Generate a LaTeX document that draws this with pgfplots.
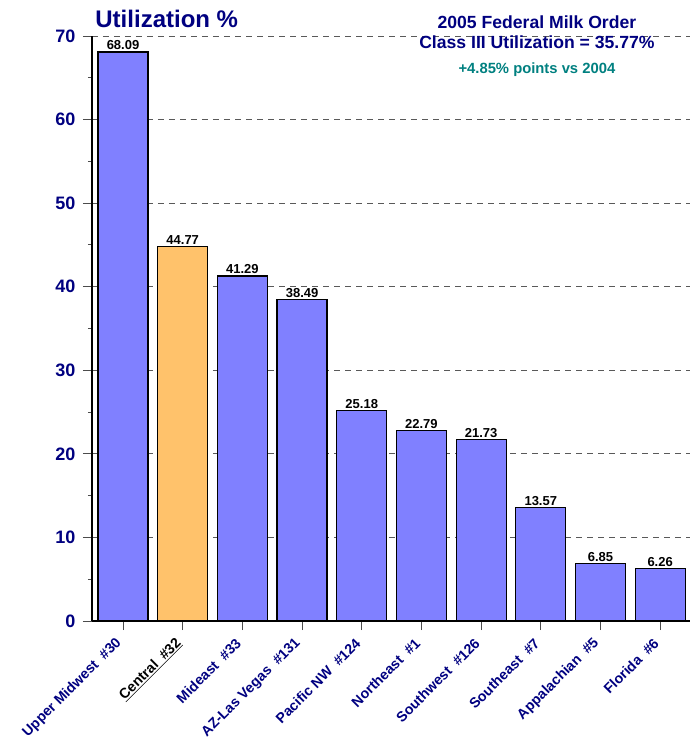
\documentclass[border=0pt]{standalone}
\usepackage{pgfplots}
\pgfplotsset{compat=1.18}
\usepackage{fontspec}
\setmainfont{Liberation Sans}
\definecolor{navy}{RGB}{0,0,128}
\definecolor{barblue}{RGB}{128,128,255}
\definecolor{barorange}{RGB}{255,194,107}
\definecolor{tealtxt}{RGB}{0,128,128}
\begin{document}
\begin{tikzpicture}
\path[use as bounding box] (-92pt,-119pt) rectangle (606pt,621pt);
\begin{axis}[
  scale only axis, width=598pt, height=585pt,
  xmin=-0.52, xmax=9.5, ymin=0, ymax=70,
  axis x line*=bottom, axis y line*=left,
  axis line style={line width=1.3pt, black, -},
  ybar, bar width=50pt, bar shift=0pt,
  xtick={0,...,9},
  xticklabels={Upper Midwest\ \ \#30, {\color{black}\underline{Central\ \ \#32}}, Mideast\ \ \#33, AZ-Las Vegas\ \ \#131, Pacific NW\ \ \#124, Northeast\ \ \#1, Southwest\ \ \#126, Southeast\ \ \#7, Appalachian\ \ \#5, Florida\ \ \#6},
  xticklabel style={rotate=45, anchor=east, font=\bfseries\fontsize{14.2}{14.2}\selectfont, text=navy, yshift=-5pt, xshift=-7pt},
  ytick={0,10,...,70}, minor ytick={5,15,...,65},
  yticklabel style={font=\bfseries\fontsize{18}{18}\selectfont, text=navy, xshift=-4pt},
  /pgf/number format/assume math mode=true,
  tick align=outside, major tick length=9pt, minor tick length=4pt,
  tick style={line width=1pt, black!70},
  ymajorgrids, major grid style={dash pattern=on 6pt off 5pt, line width=0.9pt, black!65},
  clip=false,
  nodes near coords={\pgfmathprintnumber[fixed,fixed zerofill,precision=2,assume math mode=true]{\pgfplotspointmeta}},
  every node near coord/.append style={font=\bfseries\fontsize{13}{13}\selectfont, black, yshift=-2pt},
]
\addplot[fill=barblue, draw=black, line width=1.2pt] coordinates {
  (0,68.09) (2,41.29) (3,38.49) (4,25.18) (5,22.79) (6,21.73) (7,13.57) (8,6.85) (9,6.26)};
\addplot[fill=barorange, draw=black, line width=1.2pt] coordinates {(1,44.77)};
\node[font=\bfseries\fontsize{24}{24}\selectfont, text=navy] at (rel axis cs:0.125,1.029) {Utilization \%};
\node[font=\bfseries\fontsize{17.6}{17.6}\selectfont, text=navy] at (rel axis cs:0.744,1.024) {2005 Federal Milk Order};
\node[font=\bfseries\fontsize{17.6}{17.6}\selectfont, text=navy] at (rel axis cs:0.744,0.990) {Class III Utilization = 35.77\%};
\node[font=\bfseries\fontsize{14.8}{14.8}\selectfont, text=tealtxt] at (rel axis cs:0.744,0.942) {+4.85\% points vs 2004};
\end{axis}
\end{tikzpicture}
\end{document}
